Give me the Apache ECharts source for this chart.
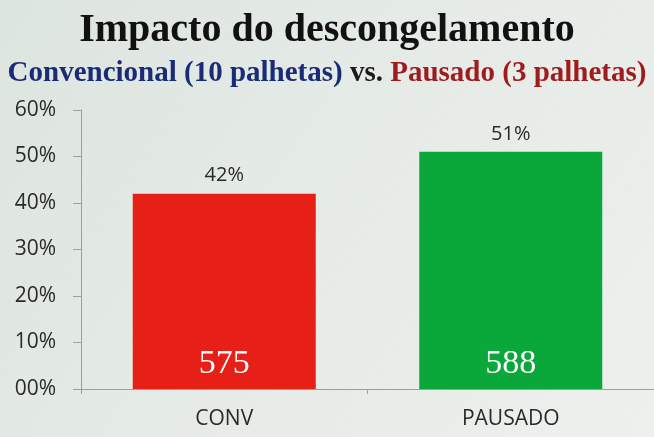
<!DOCTYPE html>
<html>
<head>
<meta charset="utf-8">
<script src="https://cdn.jsdelivr.net/npm/echarts@6/dist/echarts.min.js"></script>
<style>html,body{margin:0;padding:0;}#c{width:654px;height:437px;}</style>
</head>
<body>
<div id="c"></div>
<script>
var categories = ['CONV', 'PAUSADO'];
var percentValues = [42, 51];
var countValues = [575, 588];
var yTicks = [0, 10, 20, 30, 40, 50, 60];
var barColors = ['#e61f17', '#0aa83b'];

var chart = echarts.init(document.getElementById('c'));
chart.setOption({
  animation: false,
  backgroundColor: new echarts.graphic.LinearGradient(0, 0, 1, 1, [
    {offset: 0, color: '#dde5df'},
    {offset: 0.6, color: '#e7ece8'},
    {offset: 1, color: '#eef0ee'}
  ]),
  title: [{
    text: 'Impacto do descongelamento',
    left: 'center',
    top: 6,
    textStyle: {fontFamily: 'Liberation Serif', fontWeight: 'bold', fontSize: 40, color: '#111'}
  }, {
    text: '{a|Convencional (10 palhetas)} {b|vs.} {c|Pausado (3 palhetas)}',
    left: 'center',
    top: 54,
    textStyle: {
      fontFamily: 'Liberation Serif', fontWeight: 'bold', fontSize: 29,
      rich: {
        a: {fontFamily: 'Liberation Serif', fontWeight: 'bold', fontSize: 29, color: '#1b2b78'},
        b: {fontFamily: 'Liberation Serif', fontWeight: 'bold', fontSize: 29, color: '#1a1a1a'},
        c: {fontFamily: 'Liberation Serif', fontWeight: 'bold', fontSize: 29, color: '#9e1b1e'}
      }
    }
  }],
  grid: {left: 81, right: 0, top: 110, bottom: 48, containLabel: false},
  xAxis: {
    type: 'category',
    data: categories,
    axisLine: {lineStyle: {color: '#9aa19c', width: 1}},
    axisTick: {show: true, alignWithLabel: false, length: 5, lineStyle: {color: '#9aa19c'}},
    axisLabel: {fontFamily: 'Open Sans', fontSize: 21, color: '#2a2a2a', margin: 20}
  },
  yAxis: {
    type: 'value',
    min: yTicks[0],
    max: yTicks[yTicks.length - 1],
    interval: 10,
    splitLine: {show: false},
    axisLine: {show: true, lineStyle: {color: '#9aa19c', width: 1}},
    axisTick: {show: true, length: 8, lineStyle: {color: '#9aa19c'}},
    axisLabel: {
      fontFamily: 'Open Sans', fontSize: 21, color: '#2a2a2a', margin: 25,
      formatter: function (v) { return (v === 0 ? '00' : v) + '%'; }
    }
  },
  series: [{
    type: 'bar',
    barWidth: 183,
    data: percentValues.map(function (v, i) { return {value: v, itemStyle: {color: barColors[i]}}; }),
    label: {
      show: true, position: 'top', distance: 8,
      fontFamily: 'Open Sans', fontSize: 20, color: '#2a2a2a',
      formatter: function (p) { return p.value + '%'; }
    }
  }, {
    type: 'bar',
    barWidth: 183,
    barGap: '-100%',
    silent: true,
    data: percentValues,
    itemStyle: {color: 'rgba(0,0,0,0)'},
    label: {
      show: true, position: 'insideBottom', distance: 8,
      fontFamily: 'Liberation Serif', fontSize: 34, color: '#ffffff',
      formatter: function (p) { return countValues[p.dataIndex]; }
    }
  }]
});
</script>
</body>
</html>
